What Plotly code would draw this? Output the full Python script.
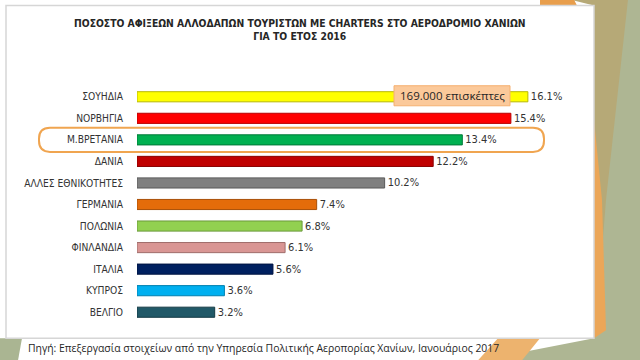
import plotly.graph_objects as go

countries = ["ΣΟΥΗΔΙΑ", "ΝΟΡΒΗΓΙΑ", "Μ.ΒΡΕΤΑΝΙΑ", "ΔΑΝΙΑ", "ΑΛΛΕΣ ΕΘΝΙΚΟΤΗΤΕΣ",
             "ΓΕΡΜΑΝΙΑ", "ΠΟΛΩΝΙΑ", "ΦΙΝΛΑΝΔΙΑ", "ΙΤΑΛΙΑ", "ΚΥΠΡΟΣ", "ΒΕΛΓΙΟ"]
shares = [16.1, 15.4, 13.4, 12.2, 10.2, 7.4, 6.8, 6.1, 5.6, 3.6, 3.2]
bar_colors = ["#FFFF00", "#FF0000", "#00B050", "#C00000", "#808080",
              "#E46C0A", "#92D050", "#D99694", "#002060", "#00B0F0", "#215968"]
edge_colors = ["#B8B800", "#B80000", "#007A38", "#8A0000", "#5A5A5A",
               "#A84F07", "#6A9A3A", "#A06E6C", "#001440", "#0080B0", "#143A44"]
title_text = "<b>ΠΟΣΟΣΤΟ ΑΦΙΞΕΩΝ ΑΛΛΟΔΑΠΩΝ ΤΟΥΡΙΣΤΩΝ ΜΕ CHARTERS ΣΤΟ ΑΕΡΟΔΡΟΜΙΟ ΧΑΝΙΩΝ<br>ΓΙΑ ΤΟ ΕΤΟΣ 2016</b>"
callout_text = "169.000 επισκέπτες"
source_text = "Πηγή: Επεξεργασία στοιχείων από την Υπηρεσία Πολιτικής Αεροπορίας Χανίων, Ιανουάριος 2017"

NARROW = "DejaVu Sans Condensed, sans-serif"

W, H = 640, 360
L, R, T, B = 137, 66, 86.25, 37.25
PW, PH = W - L - R, H - T - B


def px(x):
    return (x - L) / PW


def py(y):
    return (H - B - y) / PH


def poly(points):
    return "M " + " L ".join(f"{px(x):.5f},{py(y):.5f}" for x, y in points) + " Z"


def rounded(x0, y0, x1, y1, r):
    pts = [
        f"M {px(x0 + r):.5f},{py(y0):.5f}",
        f"L {px(x1 - r):.5f},{py(y0):.5f}",
        f"Q {px(x1):.5f},{py(y0):.5f} {px(x1):.5f},{py(y0 + r):.5f}",
        f"L {px(x1):.5f},{py(y1 - r):.5f}",
        f"Q {px(x1):.5f},{py(y1):.5f} {px(x1 - r):.5f},{py(y1):.5f}",
        f"L {px(x0 + r):.5f},{py(y1):.5f}",
        f"Q {px(x0):.5f},{py(y1):.5f} {px(x0):.5f},{py(y1 - r):.5f}",
        f"L {px(x0):.5f},{py(y0 + r):.5f}",
        f"Q {px(x0):.5f},{py(y0):.5f} {px(x0 + r):.5f},{py(y0):.5f}",
        "Z",
    ]
    return " ".join(pts)


fig = go.Figure(go.Bar(
    x=shares, y=countries, orientation="h",
    marker=dict(color=bar_colors, line=dict(color=edge_colors, width=1)),
    text=[f"{v:.1f}%" for v in shares], textposition="outside",
    constraintext="none",
    textfont=dict(family=NARROW, size=11, color="#333333"),
    cliponaxis=False, hoverinfo="skip",
))

shapes = []
# background decoration
shapes.append(dict(type="path", xref="paper", yref="paper", layer="below", line_width=0,
                   fillcolor="#AEB693", path=poly([(594, 0), (640, 0), (640, 360), (480, 360), (594, 338)])))
shapes.append(dict(type="path", xref="paper", yref="paper", layer="below", line_width=0,
                   fillcolor="#B6A977", path=poly([(570, 0), (628, 0), (606, 200), (598, 300), (594, 300), (594, 6)])))
shapes.append(dict(type="path", xref="paper", yref="paper", layer="below", line_width=0,
                   fillcolor="#E89E4C", path=poly([(540, 0), (574, 0), (594, 40), (594, 6), (540, 6)])))
shapes.append(dict(type="path", xref="paper", yref="paper", layer="below", line_width=0,
                   fillcolor="#EBA658", path=poly([(594, 120), (602, 200), (606, 330), (594, 338)])))
shapes.append(dict(type="path", xref="paper", yref="paper", layer="below", line_width=0,
                   fillcolor="#EDB36E", path=poly([(478, 360), (498, 338), (540, 338), (522, 360)])))
shapes.append(dict(type="path", xref="paper", yref="paper", layer="below", line_width=0,
                   fillcolor="#AAB592", path=poly([(0, 338), (22, 338), (18, 360), (0, 360)])))
# white panel
shapes.append(dict(type="rect", xref="paper", yref="paper", layer="below",
                   x0=px(6), x1=px(594), y0=py(338), y1=py(6),
                   fillcolor="#FFFFFF", line=dict(color="#D6D6D6", width=1.5)))
# highlight of Μ.ΒΡΕΤΑΝΙΑ
shapes.append(dict(type="path", xref="paper", yref="paper", layer="above",
                   path=rounded(39, 128, 544, 152, 11),
                   line=dict(color="#F0A550", width=2)))
# callout box
shapes.append(dict(type="rect", xref="paper", yref="paper", layer="above",
                   x0=px(394), x1=px(510), y0=py(106), y1=py(86),
                   fillcolor="#FBC99A", line=dict(color="#F5B070", width=1)))

annotations = [
    dict(text=callout_text, xref="paper", yref="paper", x=px(452), y=py(96),
         showarrow=False, xanchor="center", yanchor="middle",
         font=dict(family="Open Sans, sans-serif", size=11.5, color="#262626")),
    dict(text=title_text, xref="paper", yref="paper", x=px(300), y=py(15),
         showarrow=False, xanchor="center", yanchor="top",
         font=dict(family=NARROW, size=10.3, color="#262626")),
    dict(text=source_text, xref="paper", yref="paper", x=px(26), y=py(348),
         showarrow=False, xanchor="left", yanchor="middle",
         font=dict(family="Open Sans, sans-serif", size=10.4, color="#262626")),
]

fig.update_layout(
    width=W, height=H,
    margin=dict(l=L, r=R, t=T, b=B, autoexpand=False),
    paper_bgcolor="#FFFFFF", plot_bgcolor="rgba(0,0,0,0)",
    showlegend=False, bargap=0.53,
    shapes=shapes, annotations=annotations,
    xaxis=dict(range=[0, 18], visible=False, fixedrange=True, automargin=False),
    yaxis=dict(autorange="reversed", showgrid=False, showline=False, zeroline=False,
               ticks="", ticklabelstandoff=13, automargin=False,
               tickfont=dict(family=NARROW, size=10.2, color="#333333")),
)

fig.write_html("out.html", config={"displayModeBar": False},
               post_script="document.body.style.margin='0';document.body.style.padding='0';")
